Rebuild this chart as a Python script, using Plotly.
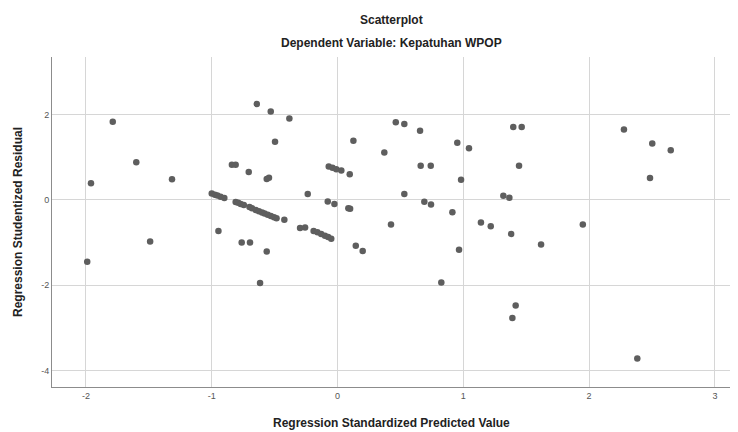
import plotly.graph_objects as go

# Regression standardized predicted value (x) and studentized residual (y)
pred = [
    -1.96, -1.787, -1.60, -1.316, -1.99, -1.49,
    -0.642, -0.531, -0.383, -0.497, 0.126,
    -0.84, -0.81, -0.706, -0.563, -0.545,
    -0.07, -0.04, -0.01, 0.03, 0.097,
    -1.00, -0.975, -0.955, -0.93, -0.90,
    -0.237, -0.078, -0.025, 0.086, 0.10,
    -0.81, -0.79, -0.77, -0.745, -0.70, -0.68, -0.65, -0.625, -0.60, -0.58,
    -0.555, -0.53, -0.505, -0.485, -0.423,
    -0.298, -0.258,
    -0.19, -0.16, -0.13, -0.10, -0.075, -0.05,
    0.145, 0.20, -0.947, -0.762, -0.696, -0.563, -0.616,
    0.463, 0.531, 0.656, 0.372, 0.952, 1.045,
    0.661, 0.741, 0.982, 1.397, 1.464, 1.443,
    0.531, 0.69, 0.743, 0.913, 1.318, 1.366,
    0.425, 1.14, 1.218, 1.38, 0.966, 0.825,
    1.416, 1.39, 1.618, 1.95,
    2.277, 2.502, 2.649, 2.484, 2.383,
]
resid = [
    0.39, 1.83, 0.88, 0.48, -1.45, -0.98,
    2.25, 2.07, 1.91, 1.36, 1.385,
    0.82, 0.82, 0.65, 0.49, 0.52,
    0.78, 0.75, 0.72, 0.69, 0.60,
    0.15, 0.12, 0.10, 0.07, 0.04,
    0.136, -0.04, -0.10, -0.20, -0.21,
    -0.05, -0.07, -0.10, -0.12, -0.17, -0.20, -0.24, -0.27, -0.30, -0.32,
    -0.35, -0.38, -0.41, -0.43, -0.47,
    -0.66, -0.65,
    -0.73, -0.76, -0.80, -0.84, -0.87, -0.91,
    -1.075, -1.20, -0.73, -1.00, -1.00, -1.21, -1.95,
    1.82, 1.78, 1.62, 1.11, 1.34, 1.21,
    0.80, 0.80, 0.47, 1.71, 1.71, 0.80,
    0.136, -0.045, -0.11, -0.29, 0.096, 0.05,
    -0.58, -0.53, -0.62, -0.80, -1.17, -1.94,
    -2.48, -2.77, -1.05, -0.58,
    1.65, 1.32, 1.16, 0.51, -3.72,
]

x_ticks = [-2, -1, 0, 1, 2, 3]
x_tick_labels = ["-2", "-1", "0", "1", "2", "3"]
y_ticks = [-4, -2, 0, 2]
y_tick_labels = ["-4", "-2", "0", "2"]

title_text = "Scatterplot"
subtitle_text = "Dependent Variable: Kepatuhan WPOP"
x_title = "Regression Standardized Predicted Value"
y_title = "Regression Studentized Residual"

font_family = "Liberation Sans, Arial, sans-serif"
dark = "#222222"

fig = go.Figure()
fig.add_trace(go.Scatter(
    x=pred, y=resid, mode="markers",
    marker=dict(size=6.5, color="#5e5e5e", line=dict(width=0)),
    hoverinfo="x+y", showlegend=False,
))

# the page body has an 8px margin, so the figure is sized to fit the remaining window
fig.update_layout(
    width=730, height=424,
    margin=dict(l=44, r=8, t=49, b=45, autoexpand=False),
    paper_bgcolor="white", plot_bgcolor="white",
    font=dict(family=font_family, color="#333333"),
    annotations=[
        dict(text="<b>" + title_text + "</b>", x=0.5, y=1, xref="paper", yref="paper",
             yanchor="middle", yshift=37, showarrow=False, font=dict(size=12, color=dark)),
        dict(text="<b>" + subtitle_text + "</b>", x=0.5, y=1, xref="paper", yref="paper",
             yanchor="middle", yshift=14, showarrow=False, font=dict(size=12, color=dark)),
        dict(text="<b>" + x_title + "</b>", x=0.5, y=0, xref="paper", yref="paper",
             yanchor="middle", yshift=-36, showarrow=False, font=dict(size=12, color=dark)),
        dict(text="<b>" + y_title + "</b>", x=0, y=0.5, xref="paper", yref="paper",
             xanchor="center", xshift=-34, textangle=-90, showarrow=False,
             font=dict(size=12, color=dark)),
    ],
)

fig.update_xaxes(
    range=[-2.27, 3.12], tickvals=x_ticks, ticktext=x_tick_labels, automargin=False,
    showgrid=True, gridcolor="#d6d6d6", gridwidth=1,
    zeroline=False, showline=True, linecolor="#8c8c8c", linewidth=1,
    ticks="", tickfont=dict(size=9, color="#555555"),
)
fig.update_yaxes(
    range=[-4.39, 3.35], tickvals=y_ticks, ticktext=y_tick_labels, automargin=False,
    showgrid=True, gridcolor="#d6d6d6", gridwidth=1,
    zeroline=False, showline=True, linecolor="#8c8c8c", linewidth=1,
    ticks="", tickfont=dict(size=9, color="#555555"),
)

fig.write_html("out.html")
